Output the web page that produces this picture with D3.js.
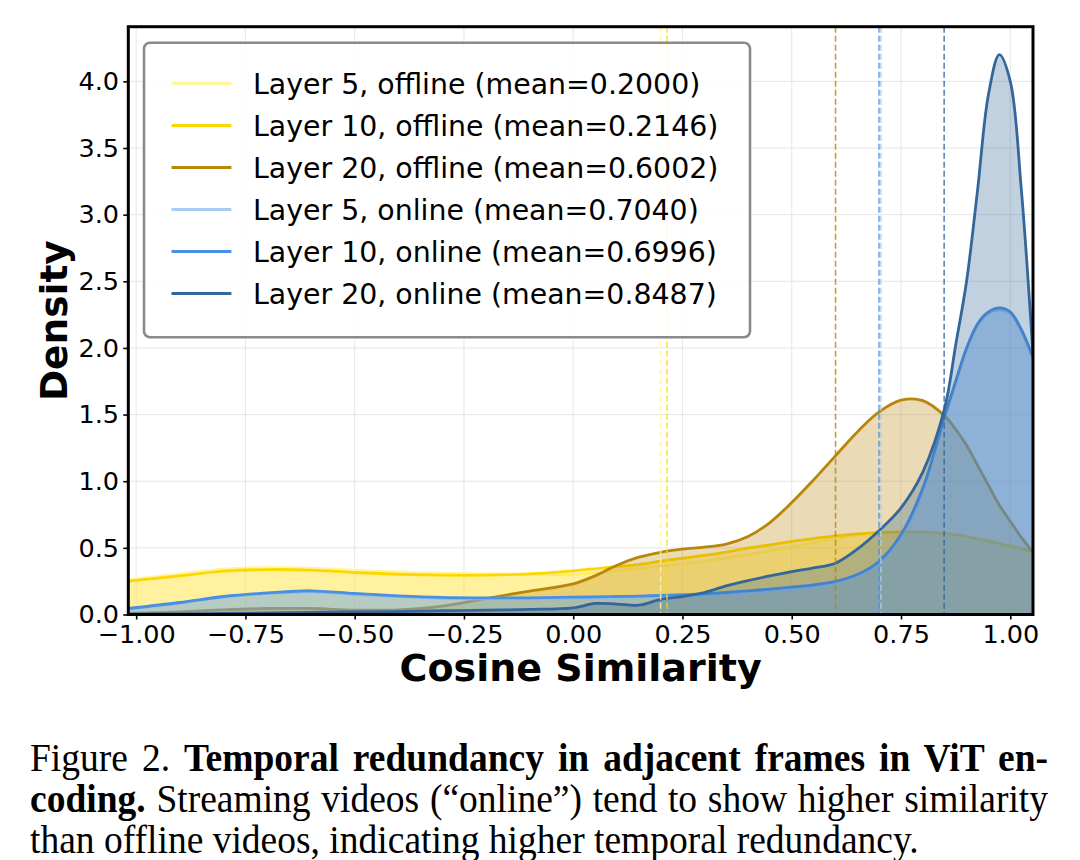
<!DOCTYPE html>
<html>
<head>
<meta charset="utf-8">
<script src="https://cdn.jsdelivr.net/npm/d3@7"></script>
<style>
  body { margin: 0; background: #fff; }
  text { font-family: "DejaVu Sans", sans-serif; }
</style>
</head>
<body>
<script>
var width = 1080;
var height = 860;

var xGrid = [-1.018, -0.9, -0.8, -0.7, -0.6, -0.5, -0.4, -0.3, -0.2, -0.1, 0.0, 0.05, 0.1, 0.15,
  0.2, 0.25, 0.3, 0.35, 0.4, 0.45, 0.5, 0.55, 0.6, 0.65, 0.7, 0.75, 0.8, 0.85, 0.875, 0.9,
  0.925, 0.95, 0.975, 1.0, 1.025, 1.052];

var layer5Offline = [0.26, 0.305, 0.34, 0.352, 0.348, 0.333, 0.32, 0.31, 0.305, 0.302, 0.30, 0.312,
  0.33, 0.345, 0.362, 0.38, 0.40, 0.425, 0.45, 0.478, 0.505, 0.54, 0.57, 0.595, 0.612, 0.617,
  0.615, 0.605, 0.597, 0.585, 0.57, 0.552, 0.533, 0.515, 0.495, 0.47];
var layer10Offline = [0.25, 0.29, 0.325, 0.337, 0.333, 0.315, 0.302, 0.295, 0.295, 0.305, 0.328, 0.343,
  0.36, 0.375, 0.40, 0.422, 0.443, 0.468, 0.498, 0.523, 0.548, 0.57, 0.59, 0.605, 0.615, 0.62,
  0.618, 0.608, 0.598, 0.585, 0.568, 0.55, 0.532, 0.515, 0.495, 0.472];
var layer20Offline = [0.008, 0.02, 0.035, 0.045, 0.045, 0.033, 0.035, 0.062, 0.12, 0.175, 0.23, 0.29,
  0.37, 0.43, 0.467, 0.49, 0.505, 0.528, 0.585, 0.69, 0.84, 1.01, 1.19, 1.37, 1.52, 1.608,
  1.605, 1.49, 1.39, 1.27, 1.12, 0.97, 0.82, 0.70, 0.58, 0.465];
var layer5Online = [0.04, 0.085, 0.13, 0.158, 0.172, 0.152, 0.135, 0.122, 0.118, 0.118, 0.122, 0.124,
  0.127, 0.13, 0.134, 0.138, 0.144, 0.152, 0.163, 0.175, 0.19, 0.21, 0.238, 0.29, 0.39, 0.58,
  0.93, 1.48, 1.74, 1.99, 2.17, 2.26, 2.285, 2.26, 2.13, 1.92];
var layer10Online = [0.045, 0.09, 0.135, 0.162, 0.178, 0.158, 0.14, 0.128, 0.125, 0.125, 0.13, 0.132,
  0.135, 0.138, 0.143, 0.148, 0.155, 0.165, 0.178, 0.19, 0.205, 0.222, 0.248, 0.30, 0.40, 0.60,
  0.95, 1.49, 1.75, 2.00, 2.18, 2.27, 2.30, 2.27, 2.14, 1.93];
var layer20Online = [0.003, 0.005, 0.008, 0.012, 0.016, 0.02, 0.022, 0.028, 0.033, 0.038, 0.05, 0.083,
  0.078, 0.07, 0.113, 0.135, 0.165, 0.215, 0.255, 0.29, 0.322, 0.35, 0.385, 0.49, 0.63, 0.80,
  1.07, 1.55, 2.02, 2.5, 3.18, 3.9, 4.2, 4.0, 3.2, 1.95];

var seriesNames = ['Layer 5, offline', 'Layer 10, offline', 'Layer 20, offline',
  'Layer 5, online', 'Layer 10, online', 'Layer 20, online'];
var seriesMeans = [0.2000, 0.2146, 0.6002, 0.7040, 0.6996, 0.8487];
var seriesColors = ['#fff59d', '#ffd700', '#b8860b', '#a9cdee', '#4a90e2', '#336699'];
var seriesValues = [layer5Offline, layer10Offline, layer20Offline, layer5Online, layer10Online, layer20Online];

var xTicks = [-1, -0.75, -0.5, -0.25, 0, 0.25, 0.5, 0.75, 1];
var yTicks = [0, 0.5, 1, 1.5, 2, 2.5, 3, 3.5, 4];

var plot = { left: 128.3, right: 1033, top: 26.7, bottom: 614.5 };

var svg = d3.select('body').append('svg')
    .attr('width', width)
    .attr('height', height);

var x = d3.scaleLinear().domain([-1.018, 1.052]).range([plot.left, plot.right]);
var y = d3.scaleLinear().domain([0, 4.41]).range([plot.bottom, plot.top]);

svg.append('clipPath').attr('id', 'clip')
  .append('rect')
    .attr('x', plot.left).attr('y', plot.top)
    .attr('width', plot.right - plot.left).attr('height', plot.bottom - plot.top);

// grid
var grid = svg.append('g');
grid.selectAll('line.gx').data(xTicks).enter().append('line')
    .attr('x1', function(d) { return x(d); }).attr('x2', function(d) { return x(d); })
    .attr('y1', plot.top).attr('y2', plot.bottom)
    .attr('stroke', '#b0b0b0').attr('stroke-opacity', 0.3).attr('stroke-width', 1);
grid.selectAll('line.gy').data(yTicks).enter().append('line')
    .attr('y1', function(d) { return y(d); }).attr('y2', function(d) { return y(d); })
    .attr('x1', plot.left).attr('x2', plot.right)
    .attr('stroke', '#b0b0b0').attr('stroke-opacity', 0.3).attr('stroke-width', 1);

// curves
var smooth = d3.curveCatmullRom.alpha(0.5);
var area = d3.area()
    .x(function(d) { return x(d[0]); })
    .y0(y(0))
    .y1(function(d) { return y(d[1]); })
    .curve(smooth);
var line = d3.line()
    .x(function(d) { return x(d[0]); })
    .y(function(d) { return y(d[1]); })
    .curve(smooth);

var curves = svg.append('g').attr('clip-path', 'url(#clip)');
seriesValues.forEach(function(vals, i) {
  var pts = xGrid.map(function(xv, j) { return [xv, vals[j]]; });
  curves.append('path').datum(pts)
      .attr('d', area)
      .attr('fill', seriesColors[i])
      .attr('fill-opacity', 0.3);
  curves.append('path').datum(pts)
      .attr('d', line)
      .attr('fill', 'none')
      .attr('stroke', seriesColors[i])
      .attr('stroke-width', 2.8);
});

// mean lines
svg.append('g').selectAll('line').data(seriesMeans).enter().append('line')
    .attr('x1', function(d) { return x(d); }).attr('x2', function(d) { return x(d); })
    .attr('y1', plot.top).attr('y2', plot.bottom)
    .attr('stroke', function(d, i) { return seriesColors[i]; })
    .attr('stroke-width', 1.6)
    .attr('stroke-opacity', 0.8)
    .attr('stroke-dasharray', '6,3');

// axes
var xAxis = svg.append('g')
    .attr('transform', 'translate(0,' + plot.bottom + ')')
    .call(d3.axisBottom(x).tickValues(xTicks).tickFormat(d3.format('.2f')).tickSize(5).tickPadding(5.4));
var yAxis = svg.append('g')
    .attr('transform', 'translate(' + plot.left + ',0)')
    .call(d3.axisLeft(y).tickValues(yTicks).tickFormat(d3.format('.1f')).tickSize(5).tickPadding(4.3));
[xAxis, yAxis].forEach(function(ax) {
  ax.select('.domain').remove();
  ax.selectAll('line').attr('stroke', '#000').attr('stroke-width', 1.6);
  ax.selectAll('text')
      .attr('fill', '#000')
      .style('font-family', '"DejaVu Sans", sans-serif')
      .style('font-size', '25.5px');
});

// frame
svg.append('rect')
    .attr('x', plot.left).attr('y', plot.top)
    .attr('width', plot.right - plot.left).attr('height', plot.bottom - plot.top)
    .attr('fill', 'none').attr('stroke', '#000').attr('stroke-width', 3);

// axis labels
svg.append('text')
    .attr('x', (plot.left + plot.right) / 2).attr('y', 681)
    .attr('text-anchor', 'middle')
    .style('font-size', '38px').style('font-weight', 'bold')
    .text('Cosine Similarity');
svg.append('text')
    .attr('transform', 'translate(67,' + ((plot.top + plot.bottom) / 2) + ') rotate(-90)')
    .attr('text-anchor', 'middle')
    .style('font-size', '37.5px').style('font-weight', 'bold')
    .text('Density');

// legend
var legend = svg.append('g');
legend.append('rect')
    .attr('x', 144).attr('y', 42.7).attr('width', 606).attr('height', 294.6)
    .attr('rx', 6).attr('ry', 6)
    .attr('fill', '#fff').attr('fill-opacity', 0.85)
    .attr('stroke', '#8a8a8a').attr('stroke-width', 2.6);
var entries = legend.selectAll('g.entry').data(seriesNames).enter().append('g')
    .attr('transform', function(d, i) { return 'translate(0,' + (83.5 + i * 42) + ')'; });
entries.append('line')
    .attr('x1', 171.5).attr('x2', 231.4)
    .attr('stroke', function(d, i) { return seriesColors[i]; })
    .attr('stroke-width', 3);
entries.append('text')
    .attr('x', 253).attr('y', 10.2)
    .style('font-size', '28.4px')
    .text(function(d, i) { return d + ' (mean=' + seriesMeans[i].toFixed(4) + ')'; });

// caption (slightly condensed Times, first two lines justified)
var captionLines = [
  [{ t: 'Figure 2. ', b: false }, { t: 'Temporal redundancy in adjacent frames in ViT en-', b: true }],
  [{ t: 'coding.', b: true }, { t: ' Streaming videos (\u201conline\u201d) tend to show higher similarity', b: false }],
  [{ t: 'than offline videos, indicating higher temporal redundancy.', b: false }]
];
var squeeze = 0.95;
var captionLeft = 30 / squeeze, captionRight = 1048 / squeeze;
var caption = svg.append('g').attr('transform', 'scale(' + squeeze + ',1)');
captionLines.forEach(function(parts, i) {
  var t = caption.append('text')
      .attr('x', captionLeft).attr('y', 771 + i * 41)
      .style('font-family', '"Liberation Serif", "Times New Roman", serif')
      .style('font-size', '39.5px');
  parts.forEach(function(p) {
    t.append('tspan')
        .style('font-weight', p.b ? 'bold' : 'normal')
        .style('font-family', '"Liberation Serif", "Times New Roman", serif')
        .text(p.t);
  });
  if (i < 2) {
    var full = parts.map(function(p) { return p.t; }).join('');
    var spaces = full.split(' ').length - 1;
    var natural = t.node().getComputedTextLength();
    t.attr('word-spacing', (captionRight - captionLeft - natural) / spaces);
  }
});
</script>
</body>
</html>
